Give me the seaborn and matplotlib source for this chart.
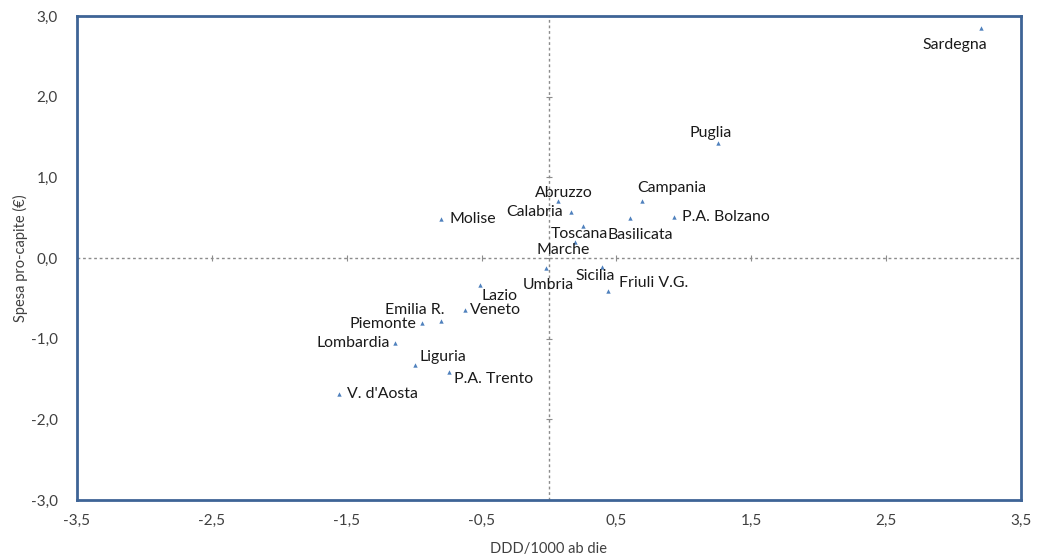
import matplotlib
matplotlib.use("Agg")
import matplotlib.pyplot as plt
import seaborn as sns
import numpy as np
import pandas as pd

regions = ["Sardegna", "Puglia", "Campania", "P.A. Bolzano", "Basilicata", "Toscana",
           "Marche", "Abruzzo", "Calabria", "Umbria", "Sicilia", "Friuli V.G.",
           "Molise", "Lazio", "Veneto", "Emilia R.", "Piemonte", "Lombardia",
           "Liguria", "P.A. Trento", "V. d'Aosta"]
ddd = [3.20, 1.25, 0.69, 0.93, 0.60, 0.25,
       0.19, 0.07, 0.16, -0.02, 0.39, 0.44,
       -0.80, -0.51, -0.62, -0.80, -0.94, -1.14,
       -0.99, -0.74, -1.56]
spesa = [2.85, 1.43, 0.71, 0.51, 0.50, 0.40,
         0.20, 0.71, 0.57, -0.12, -0.11, -0.41,
         0.48, -0.33, -0.64, -0.78, -0.81, -1.05,
         -1.33, -1.41, -1.69]
xticks = [-3.5, -2.5, -1.5, -0.5, 0.5, 1.5, 2.5, 3.5]
yticks = [-3.0, -2.0, -1.0, 0.0, 1.0, 2.0, 3.0]

# label placement (offset in pixels, horizontal alignment)
label_layout = {
    "Sardegna": (-26, -17, "center"),
    "Puglia": (-7, 10, "center"),
    "Campania": (30, 13, "center"),
    "P.A. Bolzano": (8, 0, "left"),
    "Basilicata": (10, -17, "center"),
    "Toscana": (-3, -8, "center"),
    "Marche": (-11, -8, "center"),
    "Abruzzo": (5, 8, "center"),
    "Calabria": (-8, 0, "right"),
    "Umbria": (2, -17, "center"),
    "Sicilia": (-6, -9, "center"),
    "Friuli V.G.": (11, 8, "left"),
    "Molise": (8, 0, "left"),
    "Lazio": (19, -11, "center"),
    "Veneto": (5, 0, "left"),
    "Emilia R.": (-26, 11, "center"),
    "Piemonte": (-6, -1, "right"),
    "Lombardia": (-5, 0, "right"),
    "Liguria": (4, 8, "left"),
    "P.A. Trento": (5, -7, "left"),
    "V. d'Aosta": (8, 0, "left"),
}

df = pd.DataFrame({"region": regions, "ddd": ddd, "spesa": spesa})

sns.set_style("white")
plt.rcParams["font.family"] = ["Lato", "DejaVu Sans"]

fig = plt.figure(figsize=(10.37, 5.6), dpi=100)
ax = fig.add_axes([77 / 1037, 1 - 500 / 560, 944 / 1037, 484 / 560])

ax.axhline(0, color="#8c8c8c", lw=1, ls=(0, (2, 2)), zorder=1)
ax.axvline(0, color="#8c8c8c", lw=1, ls=(0, (2, 2)), zorder=1)
# small tick marks on the zero lines
for xt in xticks:
    ax.plot([xt], [0], marker="|", color="#8c8c8c", ms=4, mew=0.8, zorder=1)
for yt in yticks:
    ax.plot([0], [yt], marker="_", color="#8c8c8c", ms=4, mew=0.8, zorder=1)

sns.scatterplot(data=df, x="ddd", y="spesa", ax=ax, marker="^", s=10,
                color="#4F81BD", edgecolor="#4F81BD", linewidth=0, zorder=3)

for r, x, y in zip(regions, ddd, spesa):
    dx, dy, ha = label_layout[r]
    ax.annotate(r, (x, y), xytext=(dx, dy), textcoords="offset pixels",
                ha=ha, va="center", fontsize=11.4, color="#1a1a1a")

ax.set_xlim(-3.5, 3.5)
ax.set_ylim(-3.0, 3.0)
ax.set_xticks(xticks)
ax.set_yticks(yticks)
ax.set_xticklabels([f"{t:.1f}".replace(".", ",") for t in xticks])
ax.set_yticklabels([f"{t:.1f}".replace(".", ",") for t in yticks])
ax.tick_params(axis="both", length=0, labelsize=11, labelcolor="#404040")
ax.tick_params(axis="y", pad=14)
ax.tick_params(axis="x", pad=10)
ax.set_xlabel("DDD/1000 ab die", fontsize=10.5, color="#404040", labelpad=10)
ax.set_ylabel("Spesa pro-capite (€)", fontsize=10.5, color="#404040", labelpad=2)

for s in ax.spines.values():
    s.set_visible(True)
    s.set_color("#3E6496")
    s.set_linewidth(2)

fig.savefig("out.png", dpi=100)
